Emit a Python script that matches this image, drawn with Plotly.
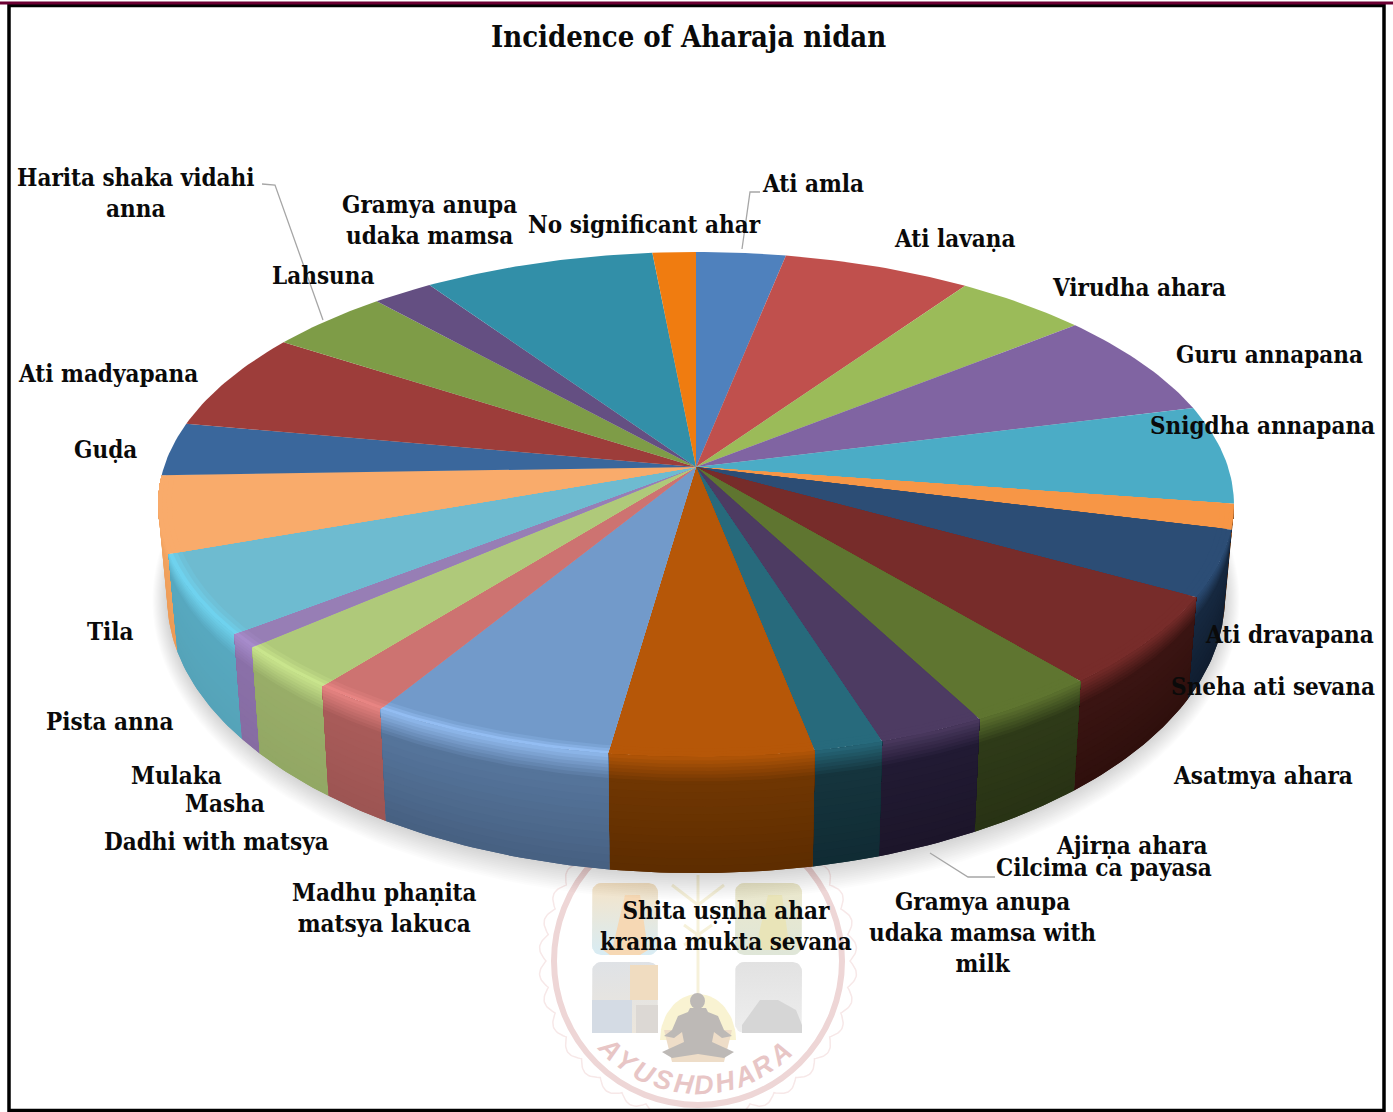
import math
import plotly.graph_objects as go

# Share of each dietary cause, in percent, clockwise from twelve o'clock
categories = [
    "Ati amla", "Ati lavaṇa", "Virudha ahara", "Guru annapana", "Snigdha annapana",
    "Ati dravapana", "Sneha ati sevana", "Asatmya ahara", "Ajirṇa ahara", "Cilcima ca payasa",
    "Gramya anupa<br>udaka mamsa with<br>milk", "Shita uṣṇha ahar<br>krama mukta sevana",
    "Madhu phaṇita<br>matsya lakuca", "Dadhi with matsya", "Masha", "Mulaka", "Pista anna",
    "Tila", "Guḍa", "Ati madyapana", "Lahsuna", "Harita shaka vidahi<br>anna",
    "Gramya anupa<br>udaka mamsa", "No significant ahar",
]
values = [3.1, 6.5, 4.6, 6.8, 6.3, 1.6, 4.2, 5.8, 3.4, 2.8, 1.8, 5.3,
          6.4, 2.0, 2.9, 0.9, 5.1, 4.9, 3.4, 6.3, 4.2, 2.1, 8.0, 1.5]

label_x = [813, 954, 1139, 1269, 1262, 1289, 1273, 1263, 1131, 1104, 982, 726,
           384, 216, 225, 176, 109, 110, 105, 108, 323, 136, 429, 644]
label_y = [183, 238, 287, 354, 425, 634, 686, 775, 845, 867, 932, 926,
           908, 841, 803, 775, 721, 631, 449, 373, 275, 193, 220, 224]

face_colors = [
    "#4f81bd", "#c0504d", "#9bbb59", "#8064a2", "#4bacc6", "#f79646",
    "#2c4d75", "#772c2a", "#5f7530", "#4d3b62", "#276a7c", "#b65708",
    "#729aca", "#cd7371", "#afc97a", "#977eb5", "#6ebbd0", "#f9ab6b",
    "#3a679c", "#9d3d3a", "#7e9c47", "#644f82", "#328fa8", "#f07c10",
]
# Rim and side shading for the slices whose wall faces the viewer (index 5 to 17)
rim_colors = ["#f79646", "#2c4d75", "#772c2a", "#5f7530", "#4d3b62", "#276a7c", "#b65708",
              "#93bdf2", "#e88583", "#c9e58d", "#a78ccb", "#6fd2ee", "#f9ab6b"]
wall_top = ["#5a3418", "#16283f", "#3a1412", "#2e3a18", "#211a33", "#15343d", "#6f3602",
            "#55749a", "#a85b59", "#98ad68", "#8a70a8", "#57a8bf", "#f0a25e"]
wall_bottom = ["#3a2010", "#0f1c2e", "#2e0f0c", "#283214", "#1c1529", "#102b33", "#5c2c00",
               "#465f80", "#9c5452", "#92a764", "#866ca2", "#55a3b8", "#ee9a55"]
FIRST_WALL = 5

# Projection of the tilted disc onto the page, in page pixels
HUB_X, HUB_Y = 696, 467
RX, RY, K = 532.0, 247.0, 0.1485
WALL_SX, WALL_SY, WALL_Y = 0.983, 1.09, 557


def on_top(theta, r=1.0):
    u, v = r * math.sin(theta), r * math.cos(theta)
    d = 1 + K * v
    return HUB_X + RX * u / d, HUB_Y - RY * v / d


def on_bottom(theta):
    x, y = on_top(theta)
    return HUB_X + WALL_SX * (x - HUB_X), WALL_Y + WALL_SY * (y - HUB_Y)


def on_wall(theta, t):
    x0, y0 = on_top(theta)
    x1, y1 = on_bottom(theta)
    return x0 + (x1 - x0) * t, y0 + (y1 - y0) * t


def mix(a, b, t):
    ca = [int(a[i:i + 2], 16) for i in (1, 3, 5)]
    cb = [int(b[i:i + 2], 16) for i in (1, 3, 5)]
    return "#%02x%02x%02x" % tuple(round(p + (q - p) * t) for p, q in zip(ca, cb))


def arc(a0, a1, n=None):
    n = n or max(4, int((a1 - a0) * 60))
    return [a0 + (a1 - a0) * i / n for i in range(n + 1)]


def add_poly(fig, xs, ys, fill, name=""):
    fig.add_trace(go.Scatter(x=xs, y=ys, mode="lines", fill="toself", fillcolor=fill,
                             line=dict(width=0, color=fill), hoverinfo="skip" if not name else "text",
                             text=name, showlegend=False))


def rounded_panel(x0, y0, x1, y1, rad=9):
    xs, ys = [], []
    corners = [(x1 - rad, y0 + rad, -90), (x1 - rad, y1 - rad, 0), (x0 + rad, y1 - rad, 90), (x0 + rad, y0 + rad, 180)]
    for cx, cy, start in corners:
        for i in range(7):
            a = math.radians(start + i * 15)
            xs.append(cx + rad * math.cos(a))
            ys.append(cy + rad * math.sin(a))
    return xs + xs[:1], ys + ys[:1]


fig = go.Figure()
shapes = []
annotations = []

# Faded journal emblem behind the chart
EM_X, EM_Y = 698, 961
ring = [i * 2 * math.pi / 720 for i in range(721)]
fig.add_trace(go.Scatter(
    x=[EM_X + (152 + 7 * abs(math.sin(18 * a))) * math.sin(a) for a in ring],
    y=[EM_Y + (152 + 7 * abs(math.sin(18 * a))) * math.cos(a) for a in ring],
    mode="lines", line=dict(color="#f7e8e8", width=1.5), hoverinfo="skip", showlegend=False))
shapes.append(dict(type="circle", x0=EM_X - 144, x1=EM_X + 144, y0=EM_Y - 144, y1=EM_Y + 144,
                   line=dict(color="#eed6d6", width=6), layer="below"))
panels = [(592, 883, 658, 955, "#d8ecf4", "#f6e4c8"), (735, 883, 802, 955, "#dfe6d8", "#ece8cc"),
          (592, 962, 658, 1033, "#ece6dc", "#dfe2e6"), (735, 962, 802, 1033, "#eeeeee", "#e2e2e2")]
for x0, y0, x1, y1, c0, c1 in panels:
    px, py = rounded_panel(x0, y0, x1, y1)
    fig.add_trace(go.Scatter(x=px, y=py, mode="lines", fill="toself",
                             line=dict(width=0), hoverinfo="skip", showlegend=False,
                             fillgradient=dict(type="vertical", colorscale=[[0, c0], [1, c1]])))
# Small portrait details inside the emblem's panels
details = [
    ([612, 625, 640, 648, 640, 610, 603, 612], [950, 895, 895, 950, 955, 955, 950, 950], "#f6d8b4"),
    ([755, 768, 782, 790, 750, 755], [950, 895, 895, 950, 950, 950], "#e9e4b8"),
    ([760, 778, 796, 802, 802, 742, 742, 760], [1000, 1000, 1010, 1025, 1033, 1033, 1025, 1000], "#d6d6d6"),
    ([630, 658, 658, 630, 630], [965, 965, 1000, 1000, 965], "#f0dcc0"),
    ([592, 632, 632, 592, 592], [1000, 1000, 1033, 1033, 1000], "#d4dbe4"),
    ([636, 658, 658, 636, 636], [1005, 1005, 1033, 1033, 1005], "#dcd8d4"),
]
for dx, dy, dc in details:
    add_poly(fig, dx, dy, dc)
fig.add_trace(go.Scatter(x=[698, 698, None, 672, 698, 724, None, 684, 712, None, 684, 712],
                         y=[875, 995, None, 885, 905, 885, None, 925, 945, None, 945, 925],
                         mode="lines", line=dict(color="#f6f1da", width=3), hoverinfo="skip", showlegend=False))
fig.add_trace(go.Scatter(x=[698 + 38 * math.sin(a) for a in arc(-1.57, 1.57, 40)],
                         y=[1040 - 46 * math.cos(a) for a in arc(-1.57, 1.57, 40)],
                         mode="lines", fill="toself", fillcolor="#f9f3d2", line=dict(width=0),
                         hoverinfo="skip", showlegend=False))
fig.add_trace(go.Scatter(x=[664, 732, 724, 672, 664], y=[1030, 1030, 1062, 1062, 1030], mode="lines",
                         fill="toself", fillcolor="#eeddc8", line=dict(width=0), hoverinfo="skip", showlegend=False))
body_x = [690, 688, 678, 672, 664, 674, 682, 684, 662, 672, 698, 724, 734, 712, 714, 722, 732, 724, 718, 708, 706]
body_y = [1008, 1012, 1016, 1030, 1036, 1038, 1032, 1042, 1052, 1058, 1054, 1058, 1052, 1042, 1032, 1038, 1036, 1030, 1016, 1012, 1008]
fig.add_trace(go.Scatter(x=body_x, y=body_y, mode="lines", fill="toself", fillcolor="#bdb9b6",
                         line=dict(width=0), hoverinfo="skip", showlegend=False))
shapes.append(dict(type="circle", x0=690, x1=705, y0=993, y1=1009, fillcolor="#bdb9b6", line=dict(width=0)))
for i, ch in enumerate("AYUSHDHARA"):
    deg = 45 - i * 9.6
    annotations.append(dict(x=EM_X - 124 * math.sin(math.radians(deg)), y=EM_Y + 124 * math.cos(math.radians(deg)),
                            text=f"<b><i>{ch}</i></b>", textangle=deg, showarrow=False,
                            font=dict(family="Liberation Sans", size=27, color="#e8c6c6", weight=700),
                            xref="x", yref="y"))

# Soft drop shadow under the disc
all_round = arc(0, 2 * math.pi, 160)
for s in range(28, 0, -2):
    xs, ys = [], []
    for a in all_round:
        x, y = on_bottom(a)
        xs.append(HUB_X + (x - HUB_X) * (1 + s / 1000))
        ys.append(600 + (y - 600) * (1 + s / 320) + s * 0.1)
    add_poly(fig, xs, ys, "rgba(0,0,0,0.012)")

# Slice boundaries follow from the values
total = sum(values)
edges = [0.0]
for v in values:
    edges.append(edges[-1] + v / total * 2 * math.pi)

# Side walls: nested strips, darkest first, so the shading runs down from the rim
WALL_STEPS, RIM_STEPS = 12, 8
for idx in list(range(FIRST_WALL, 12)) + list(range(17, 11, -1)):
    a0, a1 = edges[idx], edges[idx + 1]
    pts = arc(a0, a1)
    w = idx - FIRST_WALL
    stops = [(1.0, wall_bottom[w])]
    for j in range(WALL_STEPS - 1, -1, -1):
        stops.append((0.24 + 0.76 * (j + 1) / WALL_STEPS, mix(wall_top[w], wall_bottom[w], j / WALL_STEPS)))
    for j in range(RIM_STEPS, 0, -1):
        stops.append((0.24 * j / RIM_STEPS, mix(rim_colors[w], wall_top[w], j / RIM_STEPS)))
    for t, colour in stops:
        top_edge = [on_wall(a, 0) for a in pts]
        low_edge = [on_wall(a, t) for a in reversed(pts)]
        ring_pts = top_edge + low_edge + top_edge[:1]
        add_poly(fig, [p[0] for p in ring_pts], [p[1] for p in ring_pts], colour)

# Top faces, with a narrow bevel along the rim of the front slices
for idx, (name, colour) in enumerate(zip(categories, face_colors)):
    pts = arc(edges[idx], edges[idx + 1])
    if FIRST_WALL <= idx <= 17:
        rim = rim_colors[idx - FIRST_WALL]
        layers = [(1.0, rim), (0.992, mix(rim, colour, 0.4)), (0.984, mix(rim, colour, 0.75)), (0.975, colour)]
    else:
        layers = [(1.0, colour)]
    for r, c in layers:
        outline = [(HUB_X, HUB_Y)] + [on_top(a, r) for a in pts] + [(HUB_X, HUB_Y)]
        label = name.replace("<br>", " ") + f": {values[idx]}%" if r == layers[-1][0] else ""
        add_poly(fig, [p[0] for p in outline], [p[1] for p in outline], c, label)

# Leader lines for the labels moved away from their slices
leader_x = [262, 275, 323, None, 742, 750, 760, None, 930, 968, 995]
leader_y = [184, 185, 320, None, 249, 192, 192, None, 853, 877, 877]
fig.add_trace(go.Scatter(x=leader_x, y=leader_y, mode="lines", line=dict(color="#a6a6a6", width=1.3),
                         hoverinfo="skip", showlegend=False))

LABEL_FONT = dict(family="DejaVu Serif Condensed, DejaVu Serif", size=24, color="#0a0a0a")
for name, x, y in zip(categories, label_x, label_y):
    annotations.append(dict(x=x, y=y, text=f"<b>{name}</b>", showarrow=False, xref="x", yref="y",
                            align="center", font=LABEL_FONT))
annotations.append(dict(x=688, y=37, text="<b>Incidence of Aharaja nidan</b>", showarrow=False, xref="x", yref="y",
                        font=dict(family="DejaVu Serif Condensed, DejaVu Serif", size=29, color="#0a0a0a")))

# Page frame
shapes.append(dict(type="rect", x0=9, x1=1384, y0=5.5, y1=1110.5, line=dict(color="#000000", width=3.5), layer="above"))
shapes.append(dict(type="line", x0=0, x1=1393, y0=3, y1=3, line=dict(color="#6b0033", width=3), layer="above"))

fig.update_layout(
    width=1393, height=1112, autosize=False, margin=dict(l=0, r=0, t=0, b=0),
    paper_bgcolor="white", plot_bgcolor="white", showlegend=False,
    xaxis=dict(range=[0, 1393], visible=False, fixedrange=True),
    yaxis=dict(range=[1112, 0], visible=False, fixedrange=True),
    shapes=shapes, annotations=annotations,
)
fig.write_html("out.html")
